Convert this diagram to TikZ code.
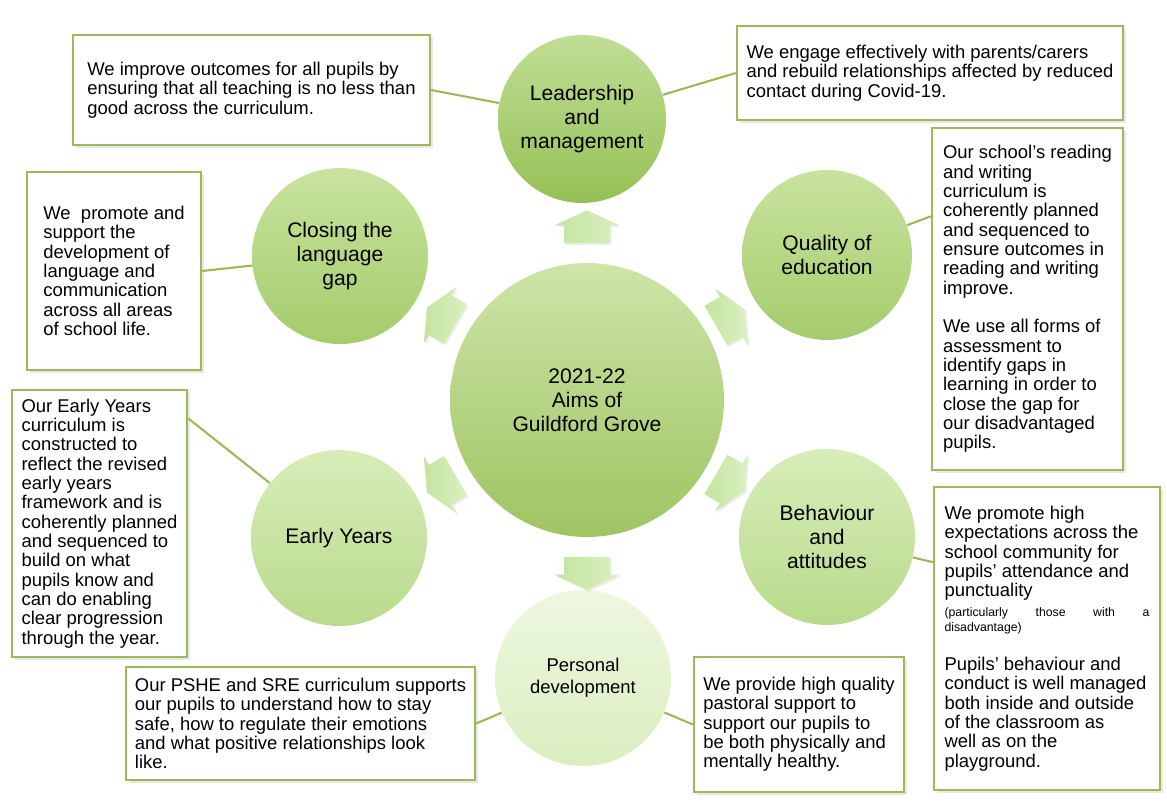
\documentclass[tikz,border=0pt]{standalone}
\usepackage{fontspec}
\setmainfont{Liberation Sans}
\usetikzlibrary{shapes.arrows, shadows, calc}
\definecolor{olivebox}{RGB}{155,187,89}
\definecolor{gcentretop}{RGB}{205,229,168}
\definecolor{gcentrebot}{RGB}{159,196,98}
\definecolor{gdarktop}{RGB}{192,222,149}
\definecolor{gdarkbot}{RGB}{150,192,86}
\definecolor{gmidtop}{RGB}{200,227,158}
\definecolor{gmidbot}{RGB}{165,204,108}
\definecolor{glighttop}{RGB}{215,237,185}
\definecolor{glightbot}{RGB}{185,218,140}
\definecolor{gpaletop}{RGB}{238,247,224}
\definecolor{gpalebot}{RGB}{218,238,192}
\definecolor{arrtop}{RGB}{218,240,194}
\definecolor{arrbot}{RGB}{196,228,158}
\tikzstyle{aim} = [rectangle, draw=olivebox, line width=1.4pt, fill=white, align=left, inner sep=4pt, font=\fontsize{10.5}{11}\selectfont, drop shadow={opacity=0.18, shadow xshift=1.5pt, shadow yshift=-1.5pt}]
\tikzstyle{area} = [circle, inner sep=0pt, align=center, font=\fontsize{12}{13.6}\selectfont]
\tikzstyle{link} = [draw=olivebox, line width=1.2pt]
\tikzstyle{pointer} = [single arrow, draw=none, left color=arrbot, right color=arrtop, minimum height=0.66cm, inner xsep=0pt, inner ysep=0.45cm, single arrow head extend=0.2cm, single arrow tip angle=130, drop shadow={opacity=0.15, shadow xshift=1pt, shadow yshift=-1pt}]

\begin{document}
\begin{tikzpicture}
[x=0.02cm, y=0.02cm]
\useasboundingbox (0,0) rectangle (1167,805);

\node (centre) [area, minimum size=5.48cm, top color=gcentretop, bottom color=gcentrebot] at (587,405) {2021-22\\Aims of\\Guildford Grove};
\node (lead) [area, minimum size=3.36cm, top color=gdarktop, bottom color=gdarkbot] at (582,686) {Leadership\\and\\management};
\node (quality) [area, minimum size=3.4cm, top color=gmidtop, bottom color=gmidbot] at (827,550) {Quality of\\education};
\node (behaviour) [area, minimum size=3.52cm, top color=glighttop, bottom color=glightbot] at (827,268) {Behaviour\\and\\attitudes};
\node (personal) [area, minimum size=3.52cm, top color=gpaletop, bottom color=gpalebot, font=\fontsize{10.5}{12.5}\selectfont] at (583,127) {Personal\\development};
\node (early) [area, minimum size=3.52cm, top color=glighttop, bottom color=glightbot] at (339,267) {Early Years};
\node (closing) [area, minimum size=3.52cm, top color=gmidtop, bottom color=gmidbot] at (340,549) {Closing the\\language\\gap};

\node (up) [pointer, rotate=90] at ($(centre)+(90:168)$) {};
\node (down) [pointer, rotate=-90] at ($(centre)+(-90:168)$) {};
\node (upleft) [pointer, rotate=150] at ($(centre)+(150:163)$) {};
\node (upright) [pointer, rotate=30] at ($(centre)+(30:160)$) {};
\node (downleft) [pointer, rotate=-150] at ($(centre)+(-150:163)$) {};
\node (downright) [pointer, rotate=-30] at ($(centre)+(-30:160)$) {};

\node (boxtl) [aim, minimum width=7.14cm, minimum height=2.2cm] at (251.5,715) {We improve outcomes for all pupils by\\ensuring that all teaching is no less than\\good across the curriculum.};
\node (boxtr) [aim, minimum width=7.72cm, minimum height=1.88cm] at (930,732) {We engage effectively with parents/carers\\and rebuild relationships affected by reduced\\contact during Covid-19.};
\node (boxr1) [aim, minimum width=3.82cm, minimum height=6.84cm] at (1027.5,506) {Our school’s reading\\and writing\\curriculum is\\coherently planned\\and sequenced to\\ensure outcomes in\\reading and writing\\improve.\\[11pt]We use all forms of\\assessment to\\identify gaps in\\learning in order to\\close the gap for\\our disadvantaged\\pupils.};
\node (boxr2) [aim, minimum width=4.52cm, minimum height=6.06cm] at (1047,166.5) {We promote high\\expectations across the\\school community for\\pupils’ attendance and\\punctuality\\{\fontsize{7}{8}\selectfont\makebox[4.1cm][s]{(particularly those with a}}\\[-2pt]{\fontsize{7}{8}\selectfont disadvantage)}\\[11pt]Pupils’ behaviour and\\conduct is well managed\\both inside and outside\\of the classroom as\\well as on the\\playground.};
\node (boxl1) [aim, minimum width=3.48cm, minimum height=3.96cm] at (114,534) {We\ \ promote and\\support the\\development of\\language and\\communication\\across all areas\\of school life.};
\node (boxl2) [aim, minimum width=3.5cm, minimum height=5.34cm] at (99.5,281.5) {Our Early Years\\curriculum is\\constructed to\\reflect the revised\\early years\\framework and is\\coherently planned\\and sequenced to\\build on what\\pupils know and\\can do enabling\\clear progression\\through the year.};
\node (boxb1) [aim, minimum width=6.98cm, minimum height=2.26cm] at (300.5,81.5) {Our PSHE and SRE curriculum supports\\our pupils to understand how to stay\\safe, how to regulate their emotions\\and what positive relationships look\\like.};
\node (boxb2) [aim, minimum width=4.2cm, minimum height=2.7cm] at (799,80.5) {We provide high quality\\pastoral support to\\support our pupils to\\be both physically and\\mentally healthy.};

\draw [link] (boxtl.east) -- (lead);
\draw [link] (lead) -- (boxtr.west);
\draw [link] (quality) -- ($(boxr1.north west)!0.26!(boxr1.south west)$);
\draw [link] (behaviour) -- ($(boxr2.north west)!0.25!(boxr2.south west)$);
\draw [link] (closing) -- (boxl1.east);
\draw [link] ($(boxl2.north east)!0.11!(boxl2.south east)$) -- (early);
\draw [link] (boxb1.east) -- (personal);
\draw [link] (personal) -- (boxb2.west);
\end{tikzpicture}
\end{document}
